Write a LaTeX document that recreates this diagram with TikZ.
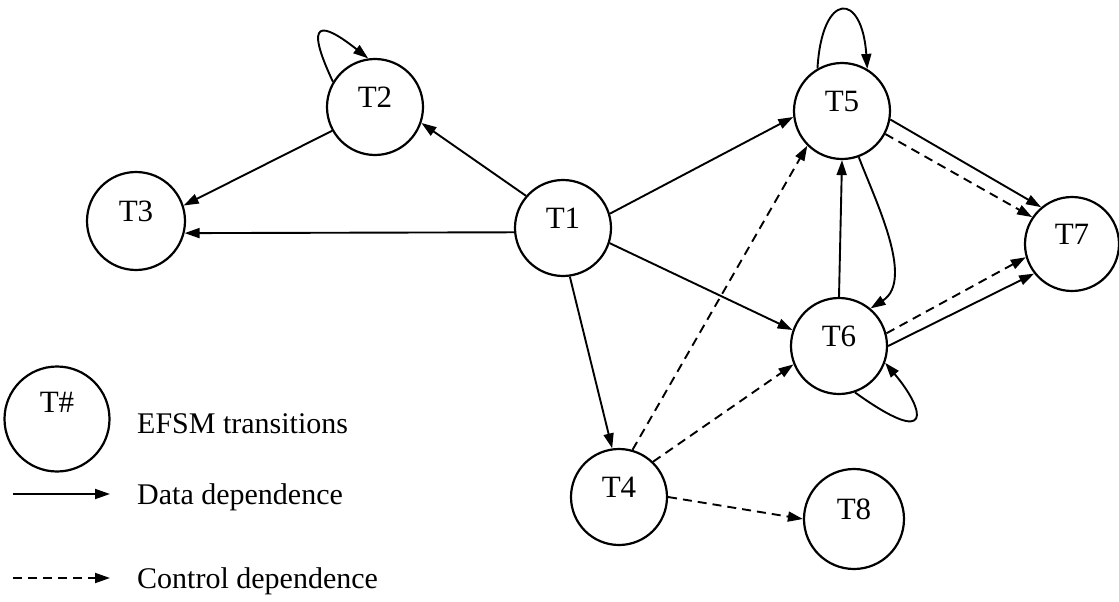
\documentclass[tikz,border=0pt]{standalone}
\usepackage{fontspec}
\setmainfont{Liberation Serif}
\usetikzlibrary{arrows.meta}
\begin{document}
\begin{tikzpicture}[x=1pt,y=-1pt,
  state/.style={circle,draw,line width=2.2pt,minimum size=96pt,inner sep=0pt,
    text height=20pt,text depth=20pt,font=\fontsize{31}{36}\selectfont},
  data/.style={line width=1.9pt,-{Triangle[length=15pt,width=10pt]}},
  ctrl/.style={data,dash pattern=on 9pt off 6pt},
  legtext/.style={anchor=base west,inner sep=0pt,font=\fontsize{30}{36}\selectfont}]
\useasboundingbox (0,0) rectangle (1119,602);

% transitions
\node[state] (T1) at (563,228) {T1};
\node[state] (T2) at (375,107) {T2};
\node[state,minimum size=98pt] (T3) at (136,221) {T3};
\node[state] (T4) at (619,497) {T4};
\node[state] (T5) at (842,111) {T5};
\node[state] (T6) at (839,346) {T6};
\node[state,minimum size=94pt] (T7) at (1072,244) {T7};
\node[state,minimum size=100pt] (T8) at (854,519) {T8};

% data dependences
\draw[data] (T1.139) -- (T2.-19);
\draw[data] (T2.209) -- (T3.18);
\draw[data] (T1.185) -- (T3.346);
\draw[data] (T1.17) -- (T5.187);
\draw[data] (T1.-18) -- (T6.161);
\draw[data] (T1.278) -- (T4.98);
\draw[data] (T6.90) -- (T5.270);
\draw[data] (T5.290) .. controls (875,200) and (915,280) .. (T6.50);
\draw[data] (T5.-10) -- (T7.130);
\draw[data] (T6.0) -- (T7.218);
\draw[data] (T2.149) .. controls (303,18) and (322,22) .. (T2.98);
\draw[data] (T5.120) .. controls (822,-9) and (862,-9) .. (T5.59);
\draw[data] (T6.289) .. controls (935,450) and (925,410) .. (T6.340);

% control dependences
\draw[ctrl] (T4.74) -- (T5.225);
\draw[ctrl] (T4.46) -- (T6.202);
\draw[ctrl] (T4.0) -- (T8.180);
\draw[ctrl] (T5.-28) -- (T7.146);
\draw[ctrl] (T6.15) -- (T7.196);

% legend
\node[state,minimum size=105pt,text depth=34pt] (L) at (57,419) {T\#};
\node[legtext] (Lt) at (137,433) {EFSM transitions};
\coordinate (d0) at (13,494);
\coordinate (d1) at (110,494);
\draw[data] (d0) -- (d1);
\node[legtext] (Ld) at (137,504) {Data dependence};
\coordinate (c0) at (13,578);
\coordinate (c1) at (110,578);
\draw[ctrl] (c0) -- (c1);
\node[legtext] (Lc) at (137,588) {Control dependence};
\end{tikzpicture}
\end{document}
